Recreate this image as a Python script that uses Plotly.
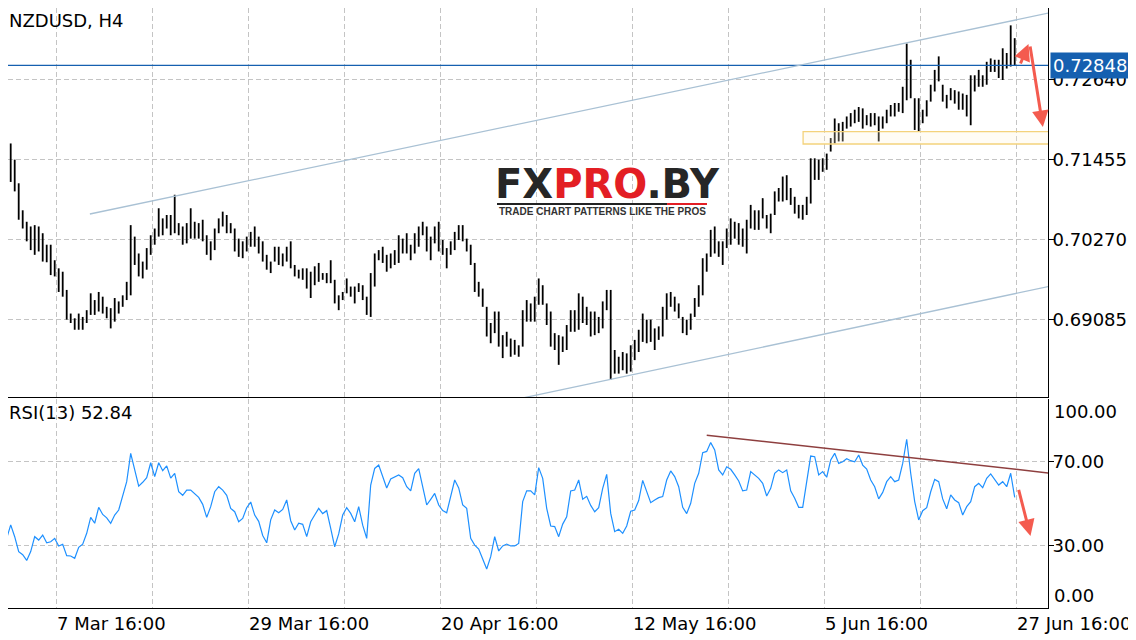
import plotly.graph_objects as go

# ---------------- data ----------------
# each entry covers two H4 bars; bar index 0 = 7 Mar 16:00
first_bar = -25
bar_step = 2

high = [0.7145,0.7169,0.7145,0.7110,0.7070,0.7053,0.7046,0.7048,0.7046,0.7036,
        0.7019,0.7019,0.6996,0.6984,0.6979,0.6952,0.6917,0.6910,0.6917,0.6912,
        0.6922,0.6947,0.6937,0.6949,0.6942,0.6927,0.6925,0.6940,0.6935,0.6944,
        0.6964,0.7048,0.7031,0.7006,0.6994,0.7014,0.7033,0.7043,0.7073,0.7058,
        0.7063,0.7063,0.7093,0.7051,0.7046,0.7051,0.7073,0.7053,0.7051,0.7056,
        0.7033,0.7024,0.7043,0.7058,0.7068,0.7063,0.7051,0.7043,0.7028,0.7024,
        0.7031,0.7038,0.7046,0.7031,0.7024,0.7004,0.6994,0.7016,0.7016,0.7006,
        0.7016,0.7024,0.6989,0.6982,0.6984,0.6984,0.6979,0.6987,0.6992,0.6977,
        0.6977,0.6996,0.6967,0.6944,0.6949,0.6969,0.6957,0.6957,0.6962,0.6959,
        0.6942,0.6977,0.7006,0.7011,0.7016,0.7004,0.7006,0.7011,0.7033,0.7028,
        0.7036,0.7019,0.7036,0.7046,0.7053,0.7046,0.7031,0.7046,0.7053,0.7026,
        0.7014,0.7024,0.7038,0.7048,0.7048,0.7028,0.7019,0.6992,0.6964,0.6954,
        0.6927,0.6903,0.6920,0.6920,0.6885,0.6890,0.6880,0.6878,0.6870,0.6922,
        0.6937,0.6932,0.6942,0.6969,0.6959,0.6932,0.6920,0.6888,0.6885,0.6883,
        0.6900,0.6922,0.6922,0.6947,0.6942,0.6927,0.6920,0.6920,0.6912,0.6935,
        0.6952,0.6952,0.6863,0.6853,0.6860,0.6858,0.6870,0.6878,0.6893,0.6917,
        0.6908,0.6908,0.6895,0.6898,0.6927,0.6947,0.6949,0.6942,0.6932,0.6912,
        0.6908,0.6917,0.6940,0.6959,0.6999,0.7006,0.7041,0.7046,0.7024,0.7024,
        0.7043,0.7058,0.7053,0.7051,0.7043,0.7056,0.7078,0.7070,0.7070,0.7088,
        0.7063,0.7065,0.7098,0.7103,0.7120,0.7122,0.7103,0.7090,0.7078,0.7078,
        0.7090,0.7147,0.7147,0.7145,0.7147,0.7154,0.7177,0.7206,0.7199,0.7201,
        0.7209,0.7214,0.7219,0.7223,0.7221,0.7211,0.7214,0.7214,0.7209,0.7209,
        0.7219,0.7226,0.7229,0.7229,0.7253,0.7317,0.7293,0.7236,0.7236,0.7219,
        0.7233,0.7256,0.7278,0.7298,0.7256,0.7241,0.7251,0.7248,0.7246,0.7243,
        0.7241,0.7270,0.7270,0.7278,0.7270,0.7290,0.7295,0.7293,0.7293,0.7310,
        0.7303,0.7344,0.7325]

low = [0.7107,0.7112,0.7098,0.7056,0.7043,0.7024,0.7011,0.7004,0.7009,0.6994,
       0.6993,0.6974,0.6972,0.6949,0.6942,0.6908,0.6903,0.6893,0.6893,0.6893,
       0.6903,0.6915,0.6915,0.6920,0.6917,0.6910,0.6895,0.6905,0.6917,0.6927,
       0.6937,0.6944,0.6989,0.6972,0.6969,0.6982,0.7004,0.7019,0.7031,0.7033,
       0.7043,0.7033,0.7036,0.7033,0.7019,0.7021,0.7028,0.7028,0.7028,0.7024,
       0.7004,0.6996,0.7011,0.7036,0.7046,0.7036,0.7036,0.7009,0.7001,0.6999,
       0.7009,0.7016,0.7016,0.7006,0.6994,0.6982,0.6977,0.6994,0.6989,0.6987,
       0.6994,0.6984,0.6972,0.6969,0.6967,0.6954,0.6940,0.6959,0.6964,0.6967,
       0.6962,0.6962,0.6932,0.6922,0.6937,0.6947,0.6942,0.6932,0.6949,0.6937,
       0.6915,0.6912,0.6957,0.6996,0.6992,0.6979,0.6984,0.6989,0.6992,0.7006,
       0.7006,0.6996,0.7006,0.7016,0.7033,0.7009,0.6996,0.7021,0.7009,0.7004,
       0.6984,0.7004,0.7011,0.7026,0.7024,0.7009,0.6989,0.6949,0.6942,0.6927,
       0.6883,0.6873,0.6888,0.6868,0.6851,0.6868,0.6853,0.6856,0.6853,0.6868,
       0.6905,0.6905,0.6905,0.6930,0.6930,0.6900,0.6868,0.6863,0.6841,0.6860,
       0.6863,0.6890,0.6890,0.6893,0.6903,0.6900,0.6883,0.6885,0.6888,0.6895,
       0.6922,0.6819,0.6828,0.6828,0.6833,0.6828,0.6831,0.6848,0.6860,0.6875,
       0.6873,0.6875,0.6863,0.6878,0.6883,0.6908,0.6927,0.6920,0.6910,0.6888,
       0.6885,0.6893,0.6912,0.6927,0.6944,0.6979,0.7001,0.7006,0.7001,0.6989,
       0.7014,0.7019,0.7028,0.7019,0.7016,0.7006,0.7043,0.7041,0.7041,0.7058,
       0.7043,0.7036,0.7063,0.7083,0.7083,0.7085,0.7078,0.7065,0.7058,0.7056,
       0.7063,0.7080,0.7115,0.7115,0.7127,0.7130,0.7157,0.7169,0.7172,0.7172,
       0.7191,0.7194,0.7199,0.7201,0.7191,0.7196,0.7194,0.7196,0.7172,0.7191,
       0.7199,0.7209,0.7209,0.7216,0.7214,0.7233,0.7236,0.7189,0.7186,0.7199,
       0.7209,0.7231,0.7246,0.7261,0.7231,0.7221,0.7233,0.7228,0.7219,0.7219,
       0.7209,0.7196,0.7246,0.7253,0.7253,0.7256,0.7275,0.7275,0.7266,0.7263,
       0.7280,0.7283,0.7285]

rsi = [33.3,39.7,34.1,27.0,25.5,22.8,27.0,34.1,32.5,34.9,
       31.2,31.7,33.3,29.7,30.5,25.1,24.9,23.8,29.0,30.5,
       35.7,43.3,40.5,48.1,44.7,43.1,40.5,44.4,46.8,53.9,
       60.3,73.8,66.6,58.2,60.0,62.2,69.3,62.7,69.3,65.5,
       67.8,62.0,64.3,55.5,53.8,56.3,56.3,54.7,52.8,49.5,
       43.3,48.4,55.5,57.9,56.3,53.8,47.6,46.0,41.2,42.8,
       47.9,50.6,44.4,41.4,34.7,31.2,42.1,46.8,45.5,47.1,
       51.6,41.7,37.3,40.5,40.0,34.1,41.2,44.4,47.6,45.1,
       46.5,38.1,29.3,35.4,44.4,47.9,45.2,41.2,48.4,39.6,
       33.3,58.7,66.6,68.2,62.7,57.3,61.6,62.7,63.5,62.2,
       57.9,55.9,64.3,66.5,57.9,49.2,51.9,54.7,49.2,46.5,
       45.5,53.1,61.1,57.3,49.2,47.6,33.3,30.1,28.2,23.5,
       18.7,24.6,34.1,27.3,29.7,30.6,29.7,29.7,30.9,50.8,
       55.9,55.9,54.0,67.0,61.9,47.6,39.2,38.9,34.1,40.1,
       43.6,55.9,56.3,61.1,51.9,53.3,49.0,46.0,47.9,57.1,
       63.8,45.2,36.5,37.6,35.7,39.2,46.2,46.8,51.3,60.9,
       55.4,50.3,51.6,52.7,53.2,61.1,65.4,62.7,57.9,48.1,
       45.1,50.0,59.5,64.3,74.1,74.7,78.9,75.4,65.9,63.5,
       67.4,66.2,63.5,60.6,55.9,56.3,65.1,63.5,61.9,59.5,
       53.5,57.1,64.3,65.9,64.6,65.9,55.9,52.4,48.1,48.1,
       59.5,72.5,72.2,63.5,65.1,62.4,70.6,73.8,69.0,69.8,
       71.2,70.3,69.8,73.0,68.2,66.3,61.1,57.9,52.1,55.2,
       60.3,62.7,60.3,61.1,69.0,80.5,64.3,50.8,42.1,46.5,
       47.9,55.5,61.4,60.3,52.1,47.4,54.0,51.6,50.3,44.4,
       48.4,50.8,57.9,59.5,57.4,61.9,64.0,61.1,58.7,60.3,
       57.9,64.3,52.84]

grid_bars = [0, 48, 96, 144, 192, 240, 288, 336, 384, 432, 480]
label_bars = [0, 96, 192, 288, 384, 480]
label_text = ['7 Mar 16:00', '29 Mar 16:00', '20 Apr 16:00',
              '12 May 16:00', '5 Jun 16:00', '27 Jun 16:00']
price_ticks = [0.69085, 0.70270, 0.71455, 0.72640]
rsi_levels = [70, 30]
last_price = 0.72848
last_rsi = 52.84

# analyst drawings (bar index, value)
upper_channel = [(16.6, 0.70645), (527.0, 0.73815)]
lower_channel = [(190.6, 0.67653), (539.6, 0.69845)]
target_box = [(373.2, 0.71682), (535.6, 0.71864)]
rsi_resistance = [(325.0, 82.4), (505.0, 63.5)]
arrow_up = [(481.6, 0.72852), (485.9, 0.73163)]
arrow_down = [(486.6, 0.73148), (493.1, 0.71934)]
arrow_rsi = [(480.8, 57.1), (486.9, 34.4)]

# ---------------- figure ----------------
x = [first_bar + bar_step * k for k in range(len(high))]
bx, by = [], []
for xi, h, l in zip(x, high, low):
    bx += [xi, xi, None]
    by += [h, l, None]

FONT = 'DejaVu Sans'
FS = 18
GRID = '#c4c4c4'
fig = go.Figure()
fig.add_trace(go.Scatter(x=bx, y=by, mode='lines', line=dict(color='black', width=1.8),
                         xaxis='x', yaxis='y', hoverinfo='skip'))
fig.add_trace(go.Scatter(x=x, y=rsi, mode='lines', line=dict(color='#1e90ff', width=1.2),
                         xaxis='x2', yaxis='y2', hoverinfo='skip'))

xr = [-24.35, 495.65]
common_x = dict(range=xr, tickvals=grid_bars, showticklabels=False, ticks='',
                showgrid=True, gridcolor=GRID, griddash='5px,3px', gridwidth=1,
                zeroline=False, showline=True, linecolor='black', linewidth=1)
common_y = dict(side='right', ticks='outside', ticklen=5, tickcolor='black',
                ticklabelstandoff=-5,
                showgrid=True, gridcolor=GRID, griddash='5px,3px', zeroline=False,
                showline=True, linecolor='black', linewidth=1, mirror=True,
                tickfont=dict(family=FONT, size=FS, color='black'))
fig.update_layout(
    width=1128, height=632, margin=dict(l=0, r=88, t=0, b=32),
    paper_bgcolor='white', plot_bgcolor='white', showlegend=False,
    font=dict(family=FONT, size=FS, color='black'),
    xaxis=dict(domain=[0, 1], anchor='y', **common_x),
    xaxis2=dict(domain=[0, 1], anchor='y2', matches='x', **common_x),
    yaxis=dict(domain=[0.3517, 1], anchor='x', range=[0.67934, 0.73697],
               tickvals=price_ticks, ticktext=[f'{v:.5f}' for v in price_ticks], **common_y),
    yaxis2=dict(domain=[0, 0.349], anchor='x2', range=[0.14, 99.86],
                tickvals=rsi_levels, ticktext=[f'{v:.2f}' for v in rsi_levels], **common_y),
)

shapes = []
# logo background
shapes.append(dict(type='rect', xref='paper', yref='paper', x0=0.4635, x1=0.6865,
                   y0=0.6467, y1=0.7417, fillcolor='white', line=dict(width=0), layer='below'))
shapes.append(dict(type='line', xref='paper', yref='paper', x0=0.4702, x1=0.6337,
                   y0=0.6733, y1=0.6733, line=dict(color='#222222', width=2)))
shapes.append(dict(type='line', xref='paper', yref='paper', x0=0.6337, x1=0.6721,
                   y0=0.6733, y1=0.6733, line=dict(color='#e31e24', width=2)))
# current price line
shapes.append(dict(type='line', xref='paper', yref='y', x0=0, x1=1,
                   y0=last_price, y1=last_price, line=dict(color='#1560b0', width=1.2)))
for (x0, y0), (x1, y1) in [upper_channel, lower_channel]:
    shapes.append(dict(type='line', xref='x', yref='y', x0=x0, y0=y0, x1=x1, y1=y1,
                       line=dict(color='#a9c1d4', width=1.3)))
(bx0, by0), (bx1, by1) = target_box
shapes.append(dict(type='rect', xref='x', yref='y', x0=bx0, x1=bx1, y0=by0, y1=by1,
                   line=dict(color='#f4d27c', width=1.3), fillcolor='rgba(255,245,215,0.25)'))
(rx0, ry0), (rx1, ry1) = rsi_resistance
shapes.append(dict(type='line', xref='x2', yref='y2', x0=rx0, y0=ry0, x1=rx1, y1=ry1,
                   line=dict(color='#8e3f3f', width=1.5)))
fig.update_layout(shapes=shapes)

ann = []
ann.append(dict(xref='paper', yref='paper', x=0, y=1, xanchor='left', yanchor='top',
                xshift=-1, yshift=0, text='NZDUSD, H4', showarrow=False,
                font=dict(family=FONT, size=FS, color='black')))
ann.append(dict(xref='paper', yref='paper', x=0, y=0.349, xanchor='left', yanchor='top',
                xshift=-1, yshift=-1, text=f'RSI(13) {last_rsi:.2f}', showarrow=False,
                font=dict(family=FONT, size=FS, color='black')))
for b, t in zip(label_bars, label_text):
    ann.append(dict(xref='x2', yref='paper', x=b, y=0, xanchor='left', yanchor='top',
                    xshift=-2, yshift=-3, text=t, showarrow=False,
                    font=dict(family=FONT, size=FS, color='black')))
ann.append(dict(xref='paper', yref='y2', x=1, y=99.86, xanchor='left', yanchor='top',
                xshift=4, text='100.00', showarrow=False, font=dict(family=FONT, size=FS)))
ann.append(dict(xref='paper', yref='y2', x=1, y=0.14, xanchor='left', yanchor='bottom',
                xshift=4, text='0.00', showarrow=False, font=dict(family=FONT, size=FS)))
ann.append(dict(xref='paper', yref='y', x=1, y=last_price, xanchor='left', yanchor='middle',
                xshift=2, text=f'{last_price:.5f}', showarrow=False, bgcolor='#1560b0',
                borderpad=2, width=80, align='left',
                font=dict(family=FONT, size=FS, color='white')))
# logo
ann.append(dict(xref='paper', yref='paper', x=0.5760, y=0.7067, xanchor='center', yanchor='middle',
                text="<b>FX<span style='color:#e31e24'>PRO</span>.BY</b>", showarrow=False,
                font=dict(family='DejaVu Sans', size=40, color='#262626')))
ann.append(dict(xref='paper', yref='paper', x=0.5712, y=0.66, xanchor='center', yanchor='middle',
                text='<b>TRADE CHART PATTERNS LIKE THE PROS</b>', showarrow=False,
                font=dict(family='Liberation Sans', size=10, color='#333333')))
# arrows
for (tx, ty), (hx, hy) in [arrow_up, arrow_down]:
    ann.append(dict(xref='x', yref='y', axref='x', ayref='y', x=hx, y=hy, ax=tx, ay=ty,
                    text='', showarrow=True, arrowhead=2, arrowsize=1.1, arrowwidth=3,
                    arrowcolor='#f45b4f', standoff=0))
(tx, ty), (hx, hy) = arrow_rsi
ann.append(dict(xref='x2', yref='y2', axref='x2', ayref='y2', x=hx, y=hy, ax=tx, ay=ty,
                text='', showarrow=True, arrowhead=2, arrowsize=1.1, arrowwidth=3,
                arrowcolor='#f45b4f', standoff=0))
fig.update_layout(annotations=ann)

fig.write_html('out.html')
